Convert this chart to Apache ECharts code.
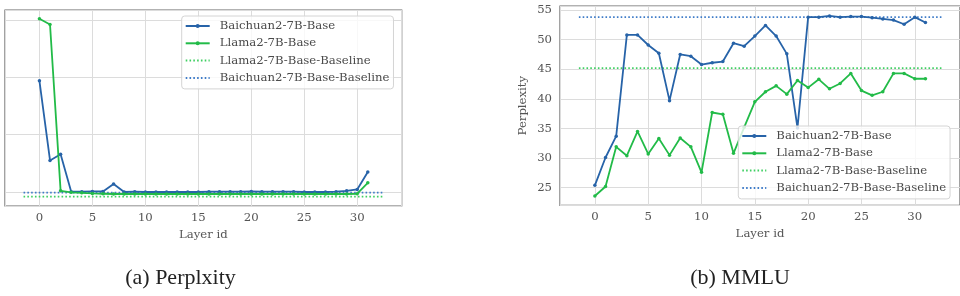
<!DOCTYPE html>
<html lang="en">
<head>
<meta charset="utf-8">
<title>Layer-wise Perplexity and MMLU</title>
<script src="https://cdn.jsdelivr.net/npm/echarts@6/dist/echarts.min.js"></script>
<style>
  html, body { margin: 0; padding: 0; background: #fff; }
  #chart { width: 960px; height: 296px; }
</style>
</head>
<body>
<div id="chart"></div>
<script type="text/javascript">
// layer index on the x axis
let layerIds = [0, 1, 2, 3, 4, 5, 6, 7, 8, 9, 10, 11, 12, 13, 14, 15,
                16, 17, 18, 19, 20, 21, 22, 23, 24, 25, 26, 27, 28, 29, 30, 31];

// (a) Perplexity, no scale printed on the y axis so units are relative
let pplBaichuan = [29.4, 15.5, 16.6, 10.05, 10.05, 10.1, 10.1, 11.4, 10.0, 10.05, 10.0, 10.0, 10.0, 10.0, 10.0, 10.0,
                   10.05, 10.05, 10.05, 10.05, 10.1, 10.05, 10.05, 10.05, 10.05, 10.0, 10.0, 10.0, 10.05, 10.2, 10.45, 13.5];
let pplLlama    = [40.2, 39.2, 10.2, 9.95, 9.85, 9.75, 9.7, 9.65, 9.65, 9.65, 9.65, 9.65, 9.65, 9.65, 9.65, 9.65,
                   9.65, 9.65, 9.65, 9.65, 9.65, 9.65, 9.65, 9.65, 9.65, 9.65, 9.65, 9.65, 9.65, 9.65, 9.7, 11.6];
let pplBaselineLlama = 9.18;
let pplBaselineBaichuan = 9.88;

// (b) MMLU
let mmluBaichuan = [25.4, 30.1, 33.7, 50.8, 50.8, 49.1, 47.7, 39.7, 47.5, 47.2, 45.8, 46.1, 46.3, 49.4, 48.9, 50.6,
                    52.4, 50.6, 47.6, 35.1, 53.8, 53.8, 54.0, 53.8, 53.9, 53.9, 53.7, 53.5, 53.3, 52.6, 53.8, 52.9];
let mmluLlama    = [23.6, 25.2, 31.9, 30.4, 34.5, 30.7, 33.3, 30.5, 33.4, 31.9, 27.6, 37.7, 37.4, 30.8, 35.2, 39.5,
                    41.2, 42.2, 40.8, 43.1, 41.9, 43.3, 41.7, 42.6, 44.3, 41.4, 40.6, 41.2, 44.3, 44.3, 43.4, 43.4];
let mmluBaselineLlama = 45.2;
let mmluBaselineBaichuan = 53.8;

// horizontal extent of the baseline lines (in layer units)
let baselineSpan = [-1.5, 32.5];

let seriesNames = ['Baichuan2-7B-Base', 'Llama2-7B-Base', 'Llama2-7B-Base-Baseline', 'Baichuan2-7B-Base-Baseline'];
let subTitles = ['(a) Perplxity', '(b) MMLU'];

const BLUE = '#2763a8';
const GREEN = '#22bb48';
const BLUE_DOT = '#3f7cc8';
const GREEN_DOT = '#3fcf62';
const FONT = 'DejaVu Serif';
const FS = 11.7;

function pairs(xs, ys) {
    return xs.map((x, i) => [x, ys[i]]);
}

function mainLine(name, values, color, idx) {
    return {
        name: name,
        type: 'line',
        xAxisIndex: idx,
        yAxisIndex: idx,
        data: pairs(layerIds, values),
        symbol: 'circle',
        symbolSize: 3.5,
        lineStyle: { color: color, width: 1.8 },
        itemStyle: { color: color },
        emphasis: { disabled: true },
        animation: false,
        z: 3
    };
}

function baseLine(name, value, color, idx) {
    return {
        name: name,
        type: 'line',
        xAxisIndex: idx,
        yAxisIndex: idx,
        data: pairs(baselineSpan, [value, value]),
        symbol: 'none',
        lineStyle: { color: color, width: 1.8, type: [1.6, 2.2] },
        itemStyle: { color: color },
        emphasis: { disabled: true },
        animation: false,
        z: 2
    };
}

function xAxisCfg(idx, min, max) {
    return {
        type: 'value',
        gridIndex: idx,
        min: min,
        max: max,
        splitNumber: 7,
        name: 'Layer id',
        nameLocation: 'middle',
        nameGap: 22,
        nameTextStyle: { fontFamily: FONT, fontSize: FS, color: '#555' },
        axisLine: { show: false },
        axisTick: { show: false },
        axisLabel: { fontFamily: FONT, fontSize: FS, color: '#555', margin: 6,
                     showMinLabel: false, showMaxLabel: false },
        splitLine: { show: true, lineStyle: { color: '#dcdcdc', width: 1 } }
    };
}

function legendCfg(left, top) {
    return {
        // the baseline entries are dotted lines without a marker
        data: seriesNames.map((n, i) => i < 2 ? { name: n } : { name: n, itemStyle: { opacity: 0 } }),
        orient: 'vertical',
        left: left,
        top: top,
        itemWidth: 24,
        itemHeight: 5,
        itemGap: 3.3,
        padding: [3, 4, 4, 3],
        backgroundColor: 'rgba(255,255,255,0.8)',
        borderColor: '#d4d4d4',
        borderWidth: 1,
        borderRadius: 3,
        selectedMode: false,
        textStyle: { fontFamily: FONT, fontSize: FS, lineHeight: 14, color: '#4a4a4a', padding: [0, 0, 0, 5] },
        z: 10
    };
}

let chart = echarts.init(document.getElementById('chart'), null, { renderer: 'canvas' });

let option = {
    animation: false,
    backgroundColor: '#fff',
    grid: [
        { left: 5, top: 10, width: 396.7, height: 196, show: true, borderColor: '#666', borderWidth: 1.2, backgroundColor: 'transparent' },
        { left: 560, top: 6, width: 401, height: 199.3, show: true, borderColor: '#666', borderWidth: 1.2, backgroundColor: 'transparent' }
    ],
    xAxis: [
        xAxisCfg(0, -3.25, 34.2),
        xAxisCfg(1, -3.27, 34.24)
    ],
    yAxis: [
        {
            type: 'value', gridIndex: 0, min: 7.56, max: 41.74, splitNumber: 3,
            axisLine: { show: false }, axisTick: { show: false },
            axisLabel: { show: false },
            splitLine: { show: true, lineStyle: { color: '#dcdcdc', width: 1 } }
        },
        {
            type: 'value', gridIndex: 1, min: 22.03, max: 55.68, splitNumber: 7,
            name: 'Perplexity', nameLocation: 'middle', nameGap: 31,
            nameTextStyle: { fontFamily: FONT, fontSize: FS, color: '#555' },
            axisLine: { show: false }, axisTick: { show: false },
            axisLabel: { fontFamily: FONT, fontSize: FS, color: '#555', margin: 8,
                         showMinLabel: false, showMaxLabel: false },
            splitLine: { show: true, lineStyle: { color: '#dcdcdc', width: 1 } }
        }
    ],
    legend: [
        legendCfg(181.7, 16),
        legendCfg(738.3, 126)
    ],
    series: [
        mainLine(seriesNames[0], pplBaichuan, BLUE, 0),
        mainLine(seriesNames[1], pplLlama, GREEN, 0),
        baseLine(seriesNames[2], pplBaselineLlama, GREEN_DOT, 0),
        baseLine(seriesNames[3], pplBaselineBaichuan, BLUE_DOT, 0),
        mainLine(seriesNames[0], mmluBaichuan, BLUE, 1),
        mainLine(seriesNames[1], mmluLlama, GREEN, 1),
        baseLine(seriesNames[2], mmluBaselineLlama, GREEN_DOT, 1),
        baseLine(seriesNames[3], mmluBaselineBaichuan, BLUE_DOT, 1)
    ],
    graphic: [
        { type: 'text', x: 180.5, y: 278, style: { text: subTitles[0], fill: '#222',
          font: '22px "Liberation Serif"', textAlign: 'center', textVerticalAlign: 'middle' } },
        { type: 'text', x: 740, y: 278, style: { text: subTitles[1], fill: '#222',
          font: '22px "Liberation Serif"', textAlign: 'center', textVerticalAlign: 'middle' } }
    ]
};

chart.setOption(option);
</script>
</body>
</html>
